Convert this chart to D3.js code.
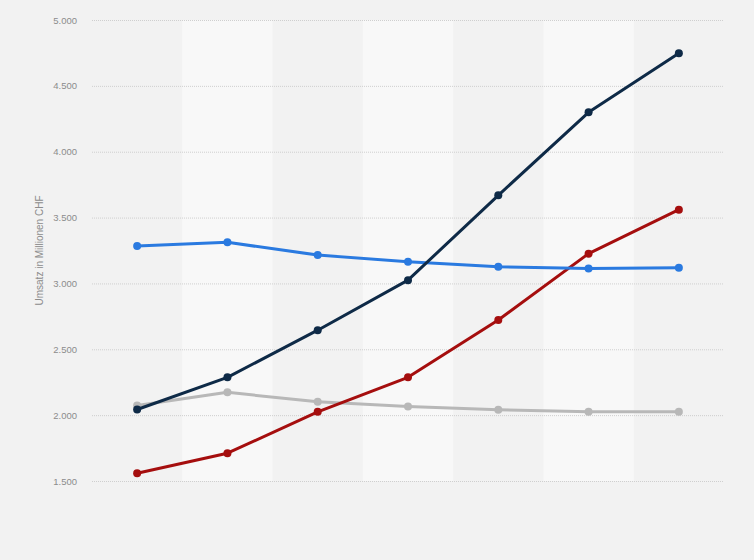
<!DOCTYPE html>
<html lang="de">
	<head>
		<meta charset="utf-8">
		<title>Umsatz</title>
		<script type="text/javascript" src="https://cdn.jsdelivr.net/npm/d3@7"></script>
		<style type="text/css">
			body { margin: 0; background: #f2f2f2; }
			svg { display: block; font-family: "Liberation Sans", Arial, sans-serif; }
		</style>
	</head>
	<body>
		<script type="text/javascript">

			// 7 Jahre, keine Beschriftung auf der x-Achse im Original
			var categories = ["1", "2", "3", "4", "5", "6", "7"]
			var yTicks = [1500, 2000, 2500, 3000, 3500, 4000, 4500, 5000]

			var navy = [2043, 2287, 2645, 3025, 3669, 4299, 4748]
			var blue = [3284, 3312, 3215, 3165, 3127, 3114, 3119]
			var red = [1559, 1711, 2025, 2287, 2722, 3226, 3560]
			var gray = [2074, 2173, 2101, 2066, 2041, 2025, 2025]

			var series = [
				{ values: gray, color: "#b8b8b8" },
				{ values: red, color: "#a50e0e" },
				{ values: blue, color: "#2a7ae0" },
				{ values: navy, color: "#0e2a47" }
			]

			var w = 754, h = 560
			var mLeft = 92, mRight = 724, mTop = 20, mBottom = 481

			var svg = d3.select("body").append("svg").attr("width", w).attr("height", h)

			var xscale = d3.scaleBand()
				.domain(categories)
				.range([mLeft, mRight])

			var yscale = d3.scaleLinear()
				.domain([1500, 5000])
				.range([mBottom, mTop])

			// abwechselnd helle Spalten
			svg.selectAll(".band")
				.data(categories.filter(function(d, i) { return i % 2 == 1 }))
				.enter()
				.append("rect")
				.attr("class", "band")
				.attr("x", function(d) { return xscale(d) })
				.attr("y", mTop)
				.attr("width", xscale.bandwidth())
				.attr("height", mBottom - mTop)
				.attr("fill", "#f8f8f8")

			// Gitterlinien
			svg.selectAll(".grid")
				.data(yTicks)
				.enter()
				.append("line")
				.attr("class", "grid")
				.attr("x1", mLeft)
				.attr("x2", mRight)
				.attr("y1", function(d) { return yscale(d) + 0.5 })
				.attr("y2", function(d) { return yscale(d) + 0.5 })
				.attr("stroke", "#cfcfcf")
				.attr("stroke-width", 1)
				.attr("stroke-dasharray", "1,1")

			svg.selectAll(".ylabel")
				.data(yTicks)
				.enter()
				.append("text")
				.attr("class", "ylabel")
				.attr("x", 77)
				.attr("y", function(d) { return yscale(d) + 3.5 })
				.attr("text-anchor", "end")
				.attr("font-size", "9.5px")
				.attr("fill", "#8c8c8c")
				.text(function(d) { return d3.format(",")(d).replace(",", ".") })

			svg.append("text")
				.attr("transform", "translate(43," + ((mTop + mBottom) / 2) + ") rotate(-90)")
				.attr("text-anchor", "middle")
				.attr("font-size", "10px")
				.attr("fill", "#8c8c8c")
				.text("Umsatz in Millionen CHF")

			var cx = function(d, i) { return xscale(categories[i]) + xscale.bandwidth() / 2 }

			var line = d3.line()
				.x(cx)
				.y(function(d) { return yscale(d) })

			var g = svg.selectAll(".series")
				.data(series)
				.enter()
				.append("g")
				.attr("class", "series")

			g.append("path")
				.attr("d", function(s) { return line(s.values) })
				.attr("fill", "none")
				.attr("stroke", function(s) { return s.color })
				.attr("stroke-width", 3)
				.attr("stroke-linejoin", "round")

			g.selectAll("circle")
				.data(function(s) { return s.values.map(function(v) { return { v: v, c: s.color } }) })
				.enter()
				.append("circle")
				.attr("cx", function(d, i) { return cx(d, i) })
				.attr("cy", function(d) { return yscale(d.v) })
				.attr("r", 4)
				.attr("fill", function(d) { return d.c })

		</script>
	</body>
</html>
